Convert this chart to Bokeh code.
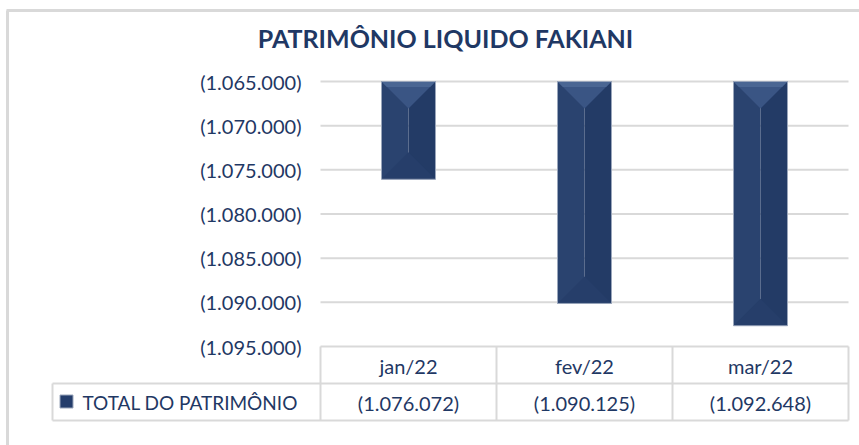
from bokeh.plotting import figure
from bokeh.models import Range1d, LinearAxis, FixedTicker, CustomJSTickFormatter, ColumnDataSource
from bokeh.core.properties import value
from bokeh.embed import file_html
from bokeh.resources import INLINE

# ---------------- data ----------------
title_text = "PATRIMÔNIO LIQUIDO FAKIANI"
series_name = "TOTAL DO PATRIMÔNIO"
months = ["jan/22", "fev/22", "mar/22"]
values = [-1076072, -1090125, -1092648]
value_labels = ["(1.076.072)", "(1.090.125)", "(1.092.648)"]
y_ticks = [-1065000, -1070000, -1075000, -1080000, -1085000, -1090000, -1095000]

# ---------------- layout (pixels) ----------------
W, H = 859, 445
AX = 320            # left edge of category area
TOP_TICK_PX = 81    # px of highest tick
BOT_TICK_PX = 346   # px of lowest tick
CAT_W = 176         # px per category
ROW_SPLIT_PX = 383
TABLE_BOTTOM_PX = 420
TABLE_LEFT_PX = 52
NAVY = "#1f3864"
GRID = "#d9d9d9"
FONT = "Lato"

n = len(months)
y_top = max(y_ticks)
y_bot = min(y_ticks)
ppu = (BOT_TICK_PX - TOP_TICK_PX) / (y_top - y_bot)


def ypx(px):
    return y_top - (px - TOP_TICK_PX) / ppu


def xpx(px):
    return (px - AX) / CAT_W


p = figure(width=W, height=H,
           x_range=Range1d(xpx(0), xpx(W)),
           y_range=Range1d(ypx(H), ypx(0)),
           output_backend="svg", toolbar_location=None,
           x_axis_location=None, y_axis_location=None)
p.min_border = 0
p.min_border_left = 0
p.min_border_right = 0
p.min_border_top = 0
p.min_border_bottom = 0
p.outline_line_color = None
p.grid.visible = False
p.background_fill_color = "white"
p.border_fill_color = "white"

# outer chart box (top and left edges)
p.segment(x0=[xpx(6), xpx(7)], x1=[xpx(W), xpx(7)],
          y0=[ypx(10), ypx(10)], y1=[ypx(10), ypx(H)],
          line_color="#d9d9d9", line_width=3)

# title
p.text(x=[xpx(445)], y=[ypx(37)], text=[title_text],
       text_font=value(FONT), text_font_style="bold",
       text_font_size="25px", text_align="center", text_baseline="middle",
       text_color=NAVY)

# gridlines over category area
p.segment(x0=[0] * len(y_ticks), x1=[n] * len(y_ticks), y0=y_ticks, y1=y_ticks,
          line_color=GRID, line_width=2)

# y axis
yax = LinearAxis(fixed_location=0, ticker=FixedTicker(ticks=y_ticks),
                 formatter=CustomJSTickFormatter(code=r"""
const v = Math.abs(Math.round(tick));
const s = v.toString().replace(/\B(?=(\d{3})+(?!\d))/g, ".");
return tick < 0 ? "(" + s + ")" : s;
"""))
yax.axis_line_color = None
yax.major_tick_line_color = None
yax.minor_tick_line_color = None
yax.major_tick_in = 0
yax.major_tick_out = 0
yax.major_label_standoff = 19
yax.major_label_text_font = FONT
yax.major_label_text_font_size = "20px"
yax.major_label_text_color = NAVY
p.add_layout(yax, "left")

# bars with bevel look
half = 27 / CAT_W
depth = 27 / ppu
centers = [i + 0.5 for i in range(n)]
src = ColumnDataSource(dict(
    c=centers, l=[c - half for c in centers], r=[c + half for c in centers],
    top=[y_top] * n, bottom=values))
p.quad(left="l", right="c", top="top", bottom="bottom", source=src,
       fill_color="#2a436f", line_color=None)
p.quad(left="c", right="r", top="top", bottom="bottom", source=src,
       fill_color="#233b66", line_color=None)
# bottom bevel
p.patches(xs=[[c - half, c + half, c] for c in centers],
          ys=[[v, v, v + depth] for v in values],
          fill_color="#263e6a", line_color=None)
# top bevel
p.patches(xs=[[c - half, c + half, c] for c in centers],
          ys=[[y_top, y_top, y_top - depth] for _ in centers],
          fill_color="#3a5584", line_color=None)
p.patches(xs=[[c - half, c + half, c + half * 0.8, c - half * 0.8] for c in centers],
          ys=[[y_top, y_top, y_top - depth * 0.2, y_top - depth * 0.2] for _ in centers],
          fill_color="#4a6693", line_color=None)
p.quad(left="l", right="r", top="top", bottom="bottom", source=src,
       fill_color=None, line_color="#9aa6bb", line_width=1)

# data table
t_left = xpx(TABLE_LEFT_PX)
hx0 = [t_left, t_left]
hx1 = [n, n]
hy = [ypx(ROW_SPLIT_PX), ypx(TABLE_BOTTOM_PX)]
p.segment(x0=hx0, x1=hx1, y0=hy, y1=hy, line_color=GRID, line_width=2)
vx = list(range(n + 1))
p.segment(x0=vx, x1=vx, y0=[ypx(BOT_TICK_PX)] * len(vx), y1=[ypx(TABLE_BOTTOM_PX)] * len(vx),
          line_color=GRID, line_width=2)
p.segment(x0=[t_left], x1=[t_left], y0=[ypx(ROW_SPLIT_PX)], y1=[ypx(TABLE_BOTTOM_PX)],
          line_color=GRID, line_width=2)

p.text(x=centers, y=[ypx(365)] * n, text=months, text_font=value(FONT),
       text_font_size="20px", text_align="center", text_baseline="middle", text_color=NAVY)
p.text(x=centers, y=[ypx(402)] * n, text=value_labels, text_font=value(FONT),
       text_font_size="20px", text_align="center", text_baseline="middle", text_color=NAVY)
p.text(x=[xpx(82)], y=[ypx(402)], text=[series_name], text_font=value(FONT),
       text_font_size="19px", text_align="left", text_baseline="middle", text_color=NAVY)
p.scatter(x=[xpx(66)], y=[ypx(401)], marker="square", size=13,
          fill_color="#243d6b", line_color="#9aa6bb", line_width=1)

open("out.html", "w").write(file_html(p, INLINE))
